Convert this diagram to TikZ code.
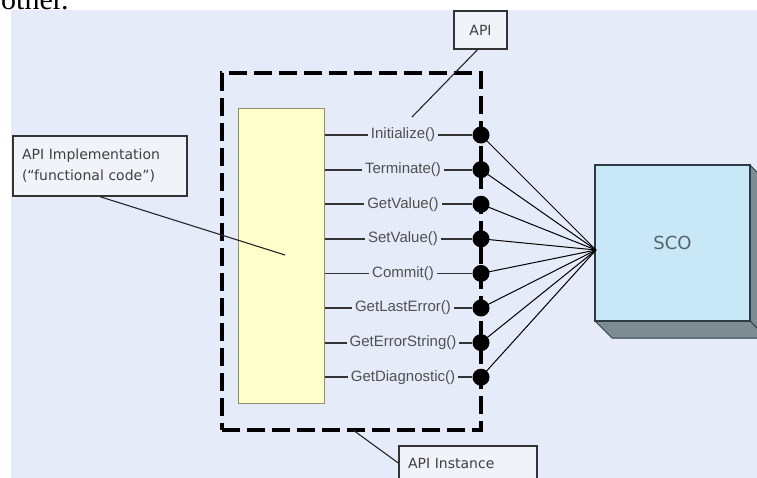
\documentclass[tikz,border=0pt]{standalone}
\usepackage{fontspec}
\setmainfont{DejaVu Sans}
\newfontfamily\callfont{Liberation Sans}
\newfontfamily\pagefont{Liberation Serif}
\usetikzlibrary{positioning,calc}

\definecolor{canvas}{RGB}{230,235,250}
\definecolor{implfill}{RGB}{255,255,204}
\definecolor{implline}{RGB}{140,140,110}
\definecolor{notefill}{RGB}{241,243,250}
\definecolor{callgray}{RGB}{80,80,80}
\definecolor{scofront}{RGB}{200,232,248}
\definecolor{scoside}{RGB}{124,140,146}
\definecolor{scoline}{RGB}{45,60,68}

\tikzset{
    note/.style={draw=black!80, line width=1.4pt, fill=notefill, text=black!75,
        font=\fontsize{14}{21}\selectfont, align=left, inner ysep=0pt},
    pointer/.style={draw=black!85, line width=1.1pt},
    instbox/.style={draw=black, line width=3.5pt, dash pattern=on 18pt off 7pt},
    impl/.style={draw=implline, line width=1pt, fill=implfill},
    call/.style={draw=black!80, line width=1.8pt},
    calllabel/.style={fill=canvas, text=callgray, inner xsep=3pt, inner ysep=1pt,
        font=\callfont\fontsize{15}{17}\selectfont},
    dot/.style={circle, fill=black, minimum size=17pt, inner sep=0pt},
    link/.style={draw=black, line width=1pt},
    sco/.style={draw=scoline, line width=1.6pt, fill=scofront, text=scoline!80,
        font=\fontsize{18}{20}\selectfont}
}

\begin{document}
\begin{tikzpicture}[x=1pt, y=-1pt]
    \useasboundingbox (0,0) rectangle (757,477);
    \begin{scope}
    \clip (0,0) rectangle (757,477);
    \fill[white] (-5,-20) rectangle (770,500);
    \node[anchor=base west, inner sep=0pt, font=\pagefont\fontsize{30}{32}\selectfont] (page) at (1,9) {other.};
    \fill[canvas] (11,10) rectangle (770,500);

    % API instance frame
    \node[instbox, minimum width=259pt, minimum height=357pt] (inst) at (351.5,251.5) {};
    \node[impl, minimum width=86pt, minimum height=295pt] (impl) at (281,255.5) {};

    % notes
    \node[note, minimum width=53pt, minimum height=38pt, inner xsep=0pt] (api) at (480.5,30) {API};
    \node[note, text width=156pt, inner xsep=9pt, minimum height=60pt] (implnote) at (100,166)
        {API Implementation\\(“functional code”)};
    \node[note, text width=120pt, inner xsep=9pt, minimum height=34pt] (instnote) at (468,463) {API Instance};
    \coordinate (apitip) at (412,117);
    \coordinate (impltip) at (285,255);
    \coordinate (insttip) at (353,430);
    \draw[pointer] ([xshift=-3pt]api.south) -- (apitip);
    \draw[pointer] (implnote.south) -- (impltip);
    \draw[pointer] (insttip) -- (instnote.west);

    % SCO block
    \fill[scoside, draw=scoline, line width=1pt] (672.5,243) ++(77.5,-78) -- ++(17,17) -- ++(0,156) -- ++(-17,-17) -- cycle;
    \fill[scoside, draw=scoline, line width=1pt] (672.5,243) ++(-77.5,78) -- ++(17,17) -- ++(155,0) -- ++(-17,-17) -- cycle;
    \node[sco, minimum width=155pt, minimum height=156pt] (sco) at (672.5,243) {SCO};
    \coordinate (hub) at (596,250);

    % calls
    \foreach \name [count=\i] in {{Initialize()},{Terminate()},{GetValue()},{SetValue()},
            {Commit()},{GetLastError()},{GetErrorString()},{GetDiagnostic()}} {
        \node[dot] (d\i) at (481,100.4+34.6*\i) {};
        \draw[call] (impl.east |- d\i) -- (d\i);
        \node[calllabel] (m\i) at (403,100.4+34.6*\i) {\name};
        \draw[link] (d\i.center) -- (hub);
    }
    \end{scope}
\end{tikzpicture}
\end{document}
